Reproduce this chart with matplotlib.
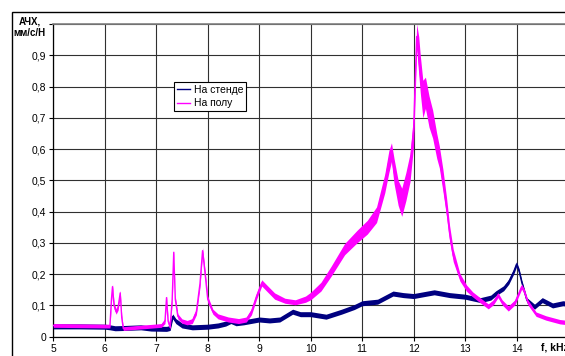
import matplotlib
matplotlib.use("Agg")
from matplotlib import pyplot as plt
from matplotlib.patches import Rectangle
import numpy as np

plt.rcParams['font.family'] = ['Liberation Sans', 'DejaVu Sans']

# "На полу" (floor) - frequency kHz, amplitude, half-width of noise band
floor_f = [5.0, 5.5, 6.0, 6.1, 6.13, 6.15, 6.18, 6.22, 6.26, 6.30, 6.33, 6.36, 6.5, 6.8, 7.1,
           7.17, 7.20, 7.23, 7.27, 7.31, 7.34, 7.37, 7.42, 7.5, 7.6, 7.7, 7.78, 7.85, 7.90, 7.95,
           8.0, 8.1, 8.2, 8.4, 8.6, 8.75, 8.85, 8.95, 9.05, 9.15, 9.3, 9.5, 9.7, 9.9, 10.0,
           10.2, 10.4, 10.66, 10.9, 11.1, 11.28, 11.44, 11.52, 11.57, 11.62, 11.7, 11.77, 11.85,
           11.93, 12.0, 12.06, 12.1, 12.13, 12.18, 12.23, 12.3, 12.37, 12.45, 12.5, 12.57, 12.64,
           12.7, 12.77, 12.9, 13.03, 13.15, 13.29, 13.45, 13.55, 13.64, 13.72, 13.84, 13.97,
           14.1, 14.15, 14.22, 14.38, 14.57, 14.84, 15.0]
floor_v = [0.036, 0.035, 0.034, 0.034, 0.12, 0.16, 0.10, 0.08, 0.095, 0.14, 0.06, 0.026, 0.028, 0.032, 0.036,
           0.05, 0.125, 0.05, 0.03, 0.12, 0.27, 0.12, 0.065, 0.05, 0.045, 0.05, 0.08, 0.17, 0.275, 0.2,
           0.12, 0.08, 0.065, 0.055, 0.05, 0.055, 0.08, 0.13, 0.172, 0.155, 0.13, 0.115, 0.11, 0.12, 0.13,
           0.16, 0.21, 0.28, 0.32, 0.35, 0.39, 0.49, 0.56, 0.59, 0.53, 0.46, 0.43, 0.48,
           0.54, 0.66, 0.96, 0.9, 0.84, 0.76, 0.78, 0.72, 0.68, 0.61, 0.575, 0.5, 0.415,
           0.33, 0.26, 0.19, 0.155, 0.135, 0.117, 0.097, 0.11, 0.133, 0.11, 0.09, 0.11,
           0.16, 0.145, 0.11, 0.072, 0.06, 0.048, 0.045]
floor_s = [0.006, 0.006, 0.006, 0.006, 0.01, 0.008, 0.01, 0.008, 0.01, 0.008, 0.01, 0.006, 0.006, 0.006, 0.006,
           0.008, 0.006, 0.008, 0.006, 0.01, 0.006, 0.01, 0.008, 0.007, 0.007, 0.008, 0.01, 0.012, 0.01, 0.012,
           0.01, 0.008, 0.008, 0.008, 0.008, 0.008, 0.01, 0.01, 0.01, 0.01, 0.01, 0.008, 0.008, 0.01, 0.012,
           0.014, 0.016, 0.018, 0.02, 0.022, 0.025, 0.03, 0.035, 0.03, 0.04, 0.04, 0.045, 0.045,
           0.045, 0.05, 0.04, 0.06, 0.06, 0.06, 0.05, 0.05, 0.045, 0.04, 0.035, 0.035, 0.03,
           0.025, 0.02, 0.012, 0.01, 0.008, 0.008, 0.008, 0.008, 0.008, 0.008, 0.008, 0.008,
           0.008, 0.008, 0.008, 0.007, 0.007, 0.007, 0.007]

# "На стенде" (stand)
stand_f = [5.0, 5.5, 6.0, 6.1, 6.2, 6.4, 6.7, 6.9, 7.2, 7.27, 7.32, 7.38, 7.5, 7.7, 8.0,
           8.2, 8.35, 8.45, 8.55, 8.7, 8.9, 9.0, 9.2, 9.4, 9.55, 9.65, 9.8, 10.0, 10.3,
           10.6, 10.85, 11.0, 11.3, 11.6, 11.8, 12.0, 12.4, 12.7, 13.0, 13.3, 13.5, 13.6,
           13.75, 13.85, 13.95, 14.0, 14.05, 14.1, 14.2, 14.35, 14.5, 14.7, 14.9, 15.0]
stand_v = [0.033, 0.033, 0.032, 0.030, 0.027, 0.028, 0.030, 0.026, 0.025, 0.028, 0.065, 0.05, 0.036, 0.03, 0.032,
           0.036, 0.042, 0.05, 0.043, 0.046, 0.052, 0.055, 0.052, 0.055, 0.07, 0.08, 0.072, 0.072, 0.064,
           0.08, 0.095, 0.107, 0.112, 0.138, 0.133, 0.13, 0.142, 0.133, 0.128, 0.117, 0.125, 0.139,
           0.155, 0.176, 0.21, 0.232, 0.21, 0.175, 0.117, 0.096, 0.117, 0.1, 0.107, 0.105]
stand_s = 0.008

x_ticks = [5, 6, 7, 8, 9, 10, 11, 12, 13, 14]
y_ticks = [0, 0.1, 0.2, 0.3, 0.4, 0.5, 0.6, 0.7, 0.8, 0.9]
y_labels = ['0', '0,1', '0,2', '0,3', '0,4', '0,5', '0,6', '0,7', '0,8', '0,9']

W, H = 565, 356
fig = plt.figure(figsize=(W / 100, H / 100), dpi=100)
ax = fig.add_axes([53.3 / W, 19.3 / H, (568 - 53.3) / W, (336.7 - 24) / H])

navy = '#000080'
magenta = '#FF00FF'

sf = np.array(stand_f)
sv = np.array(stand_v)
ax.fill_between(sf, sv - stand_s, sv + stand_s, color=navy, lw=0, zorder=3)
ax.plot(sf, sv, color=navy, lw=1, label='На стенде', zorder=3)

ff = np.array(floor_f)
fv = np.array(floor_v)
fs = np.array(floor_s)
ax.fill_between(ff, fv - fs, fv + fs, color=magenta, lw=0, zorder=4)
ax.plot(ff, fv, color=magenta, lw=1, label='На полу', zorder=4)

ax.set_xlim(5, 15)
ax.set_ylim(0, 1)
ax.set_xticks(x_ticks)
ax.set_xticklabels([str(t) for t in x_ticks])
ax.set_yticks(y_ticks)
ax.set_yticklabels(y_labels)
ax.set_yticks(np.arange(0, 1.01, 0.1), minor=False)
ax.set_yticklabels(y_labels + [''])
ax.tick_params(labelsize=7.5, length=3, width=0.8, pad=2, colors='black')
ax.grid(True, color='#303030', lw=0.8)
ax.set_axisbelow(True)
for side in ['left', 'bottom']:
    ax.spines[side].set_color('black')
    ax.spines[side].set_linewidth(0.9)
ax.spines['top'].set_color('#808080')
ax.spines['top'].set_linewidth(1.2)

leg = ax.legend(loc='upper left', bbox_to_anchor=((174 - 53.3) / (568 - 53.3), (336.7 - 82) / (336.7 - 24)),
                fontsize=7.5, frameon=True, fancybox=False, framealpha=1, edgecolor='black',
                handlelength=1.2, handletextpad=0.4, borderpad=0.3, labelspacing=0.3, borderaxespad=0)
leg.get_frame().set_linewidth(0.8)
leg.set_zorder(10)

fig.text(29.5 / W, 1 - 21.5 / H, 'АЧХ,', ha='center', va='center', fontsize=7, fontweight='bold')
fig.text(29.5 / W, 1 - 33 / H, 'мм/с/Н', ha='center', va='center', fontsize=7, fontweight='bold')
fig.text(541 / W, 1 - 348 / H, 'f, kHz', ha='left', va='center', fontsize=7.5, fontweight='bold')

fig.patches.append(Rectangle((11.5 / W, -0.1), 1.2, (H - 11.5) / H + 0.1, transform=fig.transFigure,
                             fill=False, ec='black', lw=1))

fig.savefig('out.png', dpi=100)
